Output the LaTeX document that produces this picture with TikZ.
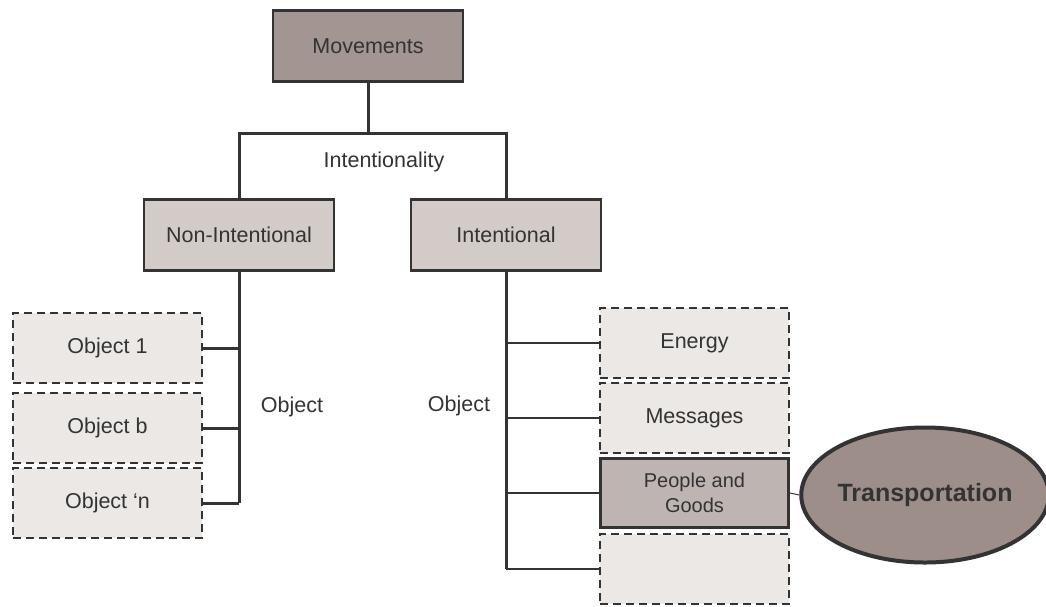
\documentclass[tikz,border=0pt]{standalone}
\usepackage{fontspec}
\setmainfont{Liberation Sans}
\usetikzlibrary{shapes.geometric}
\definecolor{linec}{HTML}{333333}
\definecolor{txtc}{HTML}{333333}
\definecolor{topfill}{HTML}{A39591}
\definecolor{midfill}{HTML}{D3CBC8}
\definecolor{lightfill}{HTML}{EBE8E5}
\definecolor{pgfill}{HTML}{BEB5B2}
\definecolor{ellfill}{HTML}{9E8E8A}
\begin{document}
\begin{tikzpicture}[x=1pt,y=-1pt,
  every node/.style={font=\fontsize{21.5}{24}\selectfont, text=txtc},
  solidbox/.style={draw=linec, line width=2.7pt, minimum width=190pt, minimum height=71pt, inner sep=0pt, align=center},
  dashbox/.style={draw=linec, line width=1.6pt, dash pattern=on 8pt off 5pt, fill=lightfill, minimum width=189pt, minimum height=70pt, inner sep=0pt, align=center},
  conn/.style={draw=linec, line width=3pt},
  thinconn/.style={draw=linec, line width=2.3pt},
  lbl/.style={inner sep=0pt}
]
\useasboundingbox (0,0) rectangle (1046,606);
% nodes
\node[solidbox, fill=topfill] (mov) at (368,46) {Movements};
\node[solidbox, fill=midfill] (nonint) at (239,235) {Non-Intentional};
\node[solidbox, fill=midfill] (int) at (506,235) {Intentional};
\node[lbl] (intent) at (384,162) {Intentionality};

\node[dashbox] (o1) at (107.5,348) {Object 1};
\node[dashbox] (o2) at (107.5,428) {Object b};
\node[dashbox] (o3) at (107.5,503) {Object ‘n};
\node[lbl] (lobj) at (292,407) {Object};

\node[dashbox] (en) at (694.5,343) {Energy};
\node[dashbox] (ms) at (694.5,418) {Messages};
\node[solidbox, fill=pgfill, minimum width=188pt, minimum height=69pt, font=\fontsize{20}{25}\selectfont] (pg) at (694.5,493) {People and\\Goods};
\node[dashbox] (em) at (694.5,569) {};
\node[lbl] (robj) at (459,406) {Object};

\node[ellipse, draw=linec, line width=4pt, fill=ellfill, minimum width=232pt, minimum height=135pt, inner sep=0pt, font=\fontsize{25}{28}\selectfont\bfseries] (tr) at (925,495) {Transportation};

% connectors
\coordinate (top) at (368,133);
\draw[conn] (mov.south) -- (top);
\draw[conn] (nonint.north) -- (nonint.north |- top) -- (int.north |- top) -- (int.north);

\draw[conn] (nonint.south) -- (nonint.south |- o3.east);
\draw[conn] (o1.east) -- (nonint.south |- o1.east);
\draw[conn] (o2.east) -- (nonint.south |- o2.east);
\draw[conn] (o3.east) -- (nonint.south |- o3.east);

\draw[conn] (int.south) -- (int.south |- em.west);
\draw[thinconn] (int.south |- en.west) -- (en.west);
\draw[thinconn] (int.south |- ms.west) -- (ms.west);
\draw[thinconn] (int.south |- pg.west) -- (pg.west);
\draw[thinconn] (int.south |- em.west) -- (em.west);

\draw[draw=linec, line width=1pt] (pg.east) -- (tr.west);
\end{tikzpicture}
\end{document}
